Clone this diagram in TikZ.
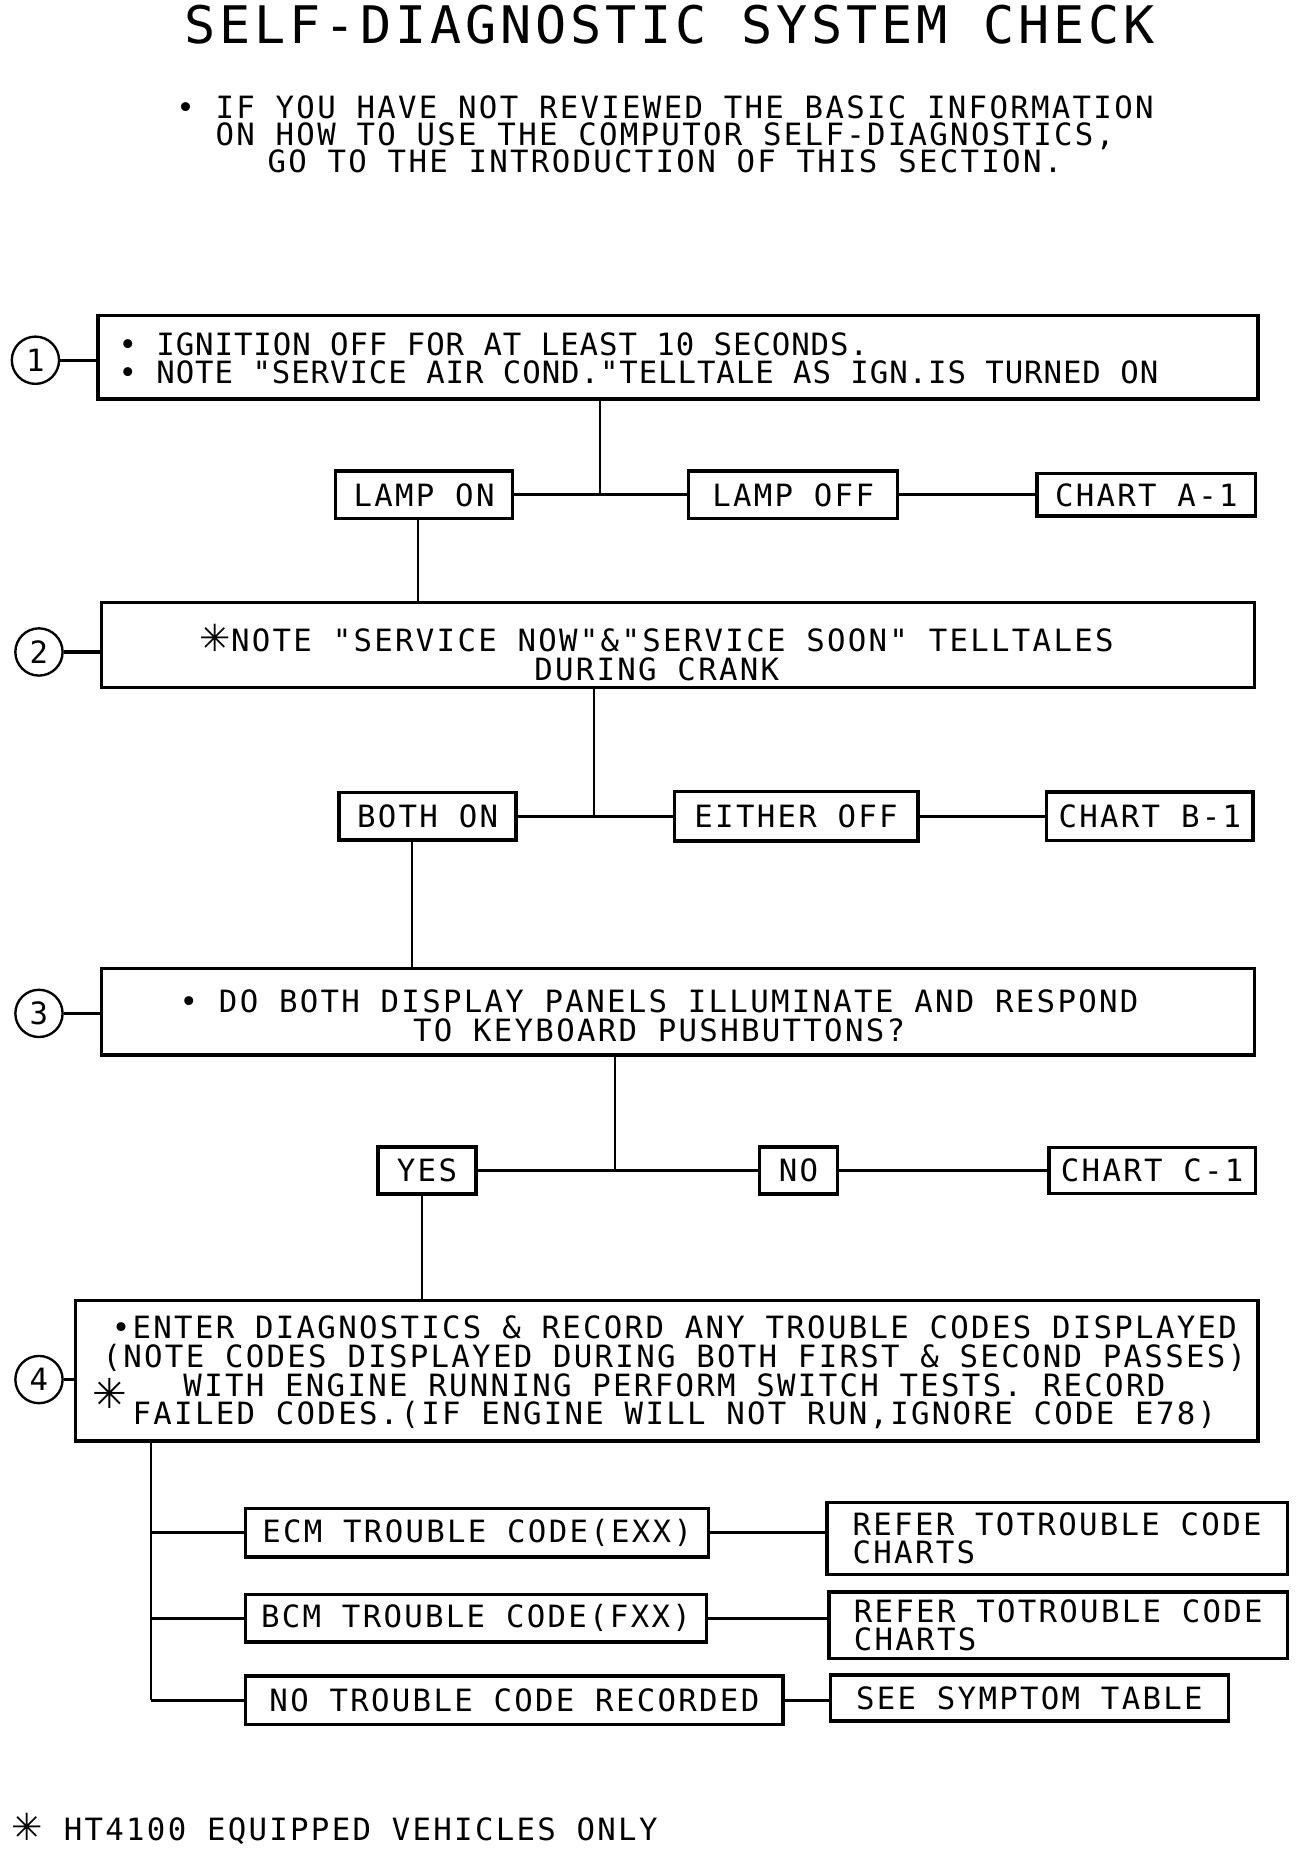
\documentclass[tikz,border=0pt]{standalone}
\usepackage{fontspec}
\setmainfont{DejaVu Sans Mono}[LetterSpace=7.5,Ligatures=TeXOff]
\newfontfamily\starfont{DejaVu Sans}
\usetikzlibrary{positioning}

\begin{document}
\begin{tikzpicture}[x=0.6pt,y=-0.6pt,
        testo/.style={font=\fontsize{15.6}{14.6}\selectfont},
        riquadro/.style={testo,draw,line width=1.8pt,inner sep=0pt,align=center},
        numero/.style={testo,circle,draw,line width=1.2pt,inner sep=0pt,minimum size=24pt},
        linea/.style={line width=1.6pt},
        discesa/.style={line width=1pt}]
        \fill[white] (0,0) rectangle (1111,1568);
        \useasboundingbox (0,0) rectangle (1111,1568);
        %disegno titolo e introduzione
        \node[font=\fontsize{26.3}{30}\selectfont] (titolo) at (567,21) {SELF-DIAGNOSTIC SYSTEM CHECK};
        \node[align=center,font=\fontsize{15.6}{13.8}\selectfont] (intro) at (563,114) {• IF YOU HAVE NOT REVIEWED THE BASIC INFORMATION\\ON HOW TO USE THE COMPUTOR SELF-DIAGNOSTICS,\\GO TO THE INTRODUCTION OF THIS SECTION.};
        %disegno passo 1
        \node[riquadro,minimum width=589.2pt,minimum height=42.6pt] (passo1) at (574,302.5) {};
        \node[align=left,inner sep=0pt,anchor=west,font={\fontsize{15.6}{14}\selectfont\addfontfeature{LetterSpace=3}}] (testo1) at (100,303.5) {• IGNITION OFF FOR AT LEAST 10 SECONDS.\\• NOTE "SERVICE AIR COND."TELLTALE AS IGN.IS TURNED ON};
        \node[numero] (n1) at (30,305) {1};
        \draw[linea] (n1.east) -- (n1.east -| passo1.west);
        \node[riquadro,minimum width=90pt,minimum height=24pt] (lampon) at (359,419) {LAMP ON};
        \node[riquadro,minimum width=106.2pt,minimum height=24pt] (lampoff) at (671.5,419) {LAMP OFF};
        \node[riquadro,minimum width=111pt,minimum height=21.6pt] (cartaA) at (970.5,419) {CHART A-1};
        \coordinate (j1) at (508,419);
        \draw[discesa] (passo1.south -| j1) -- (j1);
        \draw[linea] (lampon) -- (lampoff);
        \draw[linea] (lampoff) -- (cartaA);
        %disegno passo 2
        \node[riquadro,minimum width=585.6pt,minimum height=43.2pt] (passo2) at (574,546) {};
        \node[testo,align=center,inner sep=0pt] (testo2) at (556,552.5) {{\starfont\bfseries\fontsize{19}{14.6}\selectfont ✳}NOTE "SERVICE NOW"\&"SERVICE SOON" TELLTALES\\DURING CRANK};
        \node[numero] (n2) at (33,552) {2};
        \draw[linea] (n2.east) -- (n2.east -| passo2.west);
        \draw[discesa] ([xshift=-3pt]lampon.south) -- ([xshift=-3pt]lampon.south |- passo2.north);
        \node[riquadro,minimum width=90pt,minimum height=24pt] (bothon) at (362,691) {BOTH ON};
        \node[riquadro,minimum width=123.6pt,minimum height=25.2pt] (eitheroff) at (674,691) {EITHER OFF};
        \node[riquadro,minimum width=105pt,minimum height=24.6pt] (cartaB) at (973.5,691) {CHART B-1};
        \coordinate (j2) at (503,691);
        \draw[discesa] (passo2.south -| j2) -- (j2);
        \draw[linea] (bothon) -- (eitheroff);
        \draw[linea] (eitheroff) -- (cartaB);
        %disegno passo 3
        \node[riquadro,minimum width=585.6pt,minimum height=43.8pt] (passo3) at (574,856.5) {};
        \node[testo,align=center,inner sep=0pt] (testo3) at (558,860) {• DO BOTH DISPLAY PANELS ILLUMINATE AND RESPOND\\TO KEYBOARD PUSHBUTTONS?};
        \node[numero] (n3) at (33,858) {3};
        \draw[linea] (n3.east) -- (n3.east -| passo3.west);
        \draw[discesa] ([xshift=-8pt]bothon.south) -- ([xshift=-8pt]bothon.south |- passo3.north);
        \node[riquadro,minimum width=49.8pt,minimum height=24pt] (yes) at (361.5,991) {YES};
        \node[riquadro,minimum width=39.6pt,minimum height=24pt] (no) at (676,991) {NO};
        \node[riquadro,minimum width=105pt,minimum height=23.4pt] (cartaC) at (975.5,991) {CHART C-1};
        \coordinate (j3) at (521,991);
        \draw[discesa] (passo3.south -| j3) -- (j3);
        \draw[linea] (yes) -- (no);
        \draw[linea] (no) -- (cartaC);
        %disegno passo 4
        \node[riquadro,minimum width=600.6pt,minimum height=71.4pt] (passo4) at (564.5,1160.5) {};
        \node[testo,align=center,inner sep=0pt] (testo4) at (571,1162) {•ENTER DIAGNOSTICS \& RECORD ANY TROUBLE CODES DISPLAYED\\(NOTE CODES DISPLAYED DURING BOTH FIRST \& SECOND PASSES)\\WITH ENGINE RUNNING PERFORM SWITCH TESTS. RECORD\\FAILED CODES.(IF ENGINE WILL NOT RUN,IGNORE CODE E78)};
        \node[inner sep=0pt,font={\starfont\bfseries\fontsize{21}{21}\selectfont}] (stella4) at (93,1180) {✳};
        \node[numero] (n4) at (33,1168) {4};
        \draw[linea] (n4.east) -- (n4.east -| passo4.west);
        \draw[discesa] ([xshift=-2.7pt]yes.south) -- ([xshift=-2.7pt]yes.south |- passo4.north);
        %disegno codici
        \node[riquadro,minimum width=235.2pt,minimum height=24.6pt] (ecm) at (404,1297.5) {ECM TROUBLE CODE(EXX)};
        \node[riquadro,minimum width=234pt,minimum height=36.6pt,align=left] (rinvio1) at (895,1302.5) {REFER TOTROUBLE CODE\\CHARTS};
        \node[riquadro,minimum width=234pt,minimum height=24pt] (bcm) at (403,1370) {BCM TROUBLE CODE(FXX)};
        \node[riquadro,minimum width=232.8pt,minimum height=33.6pt,align=left] (rinvio2) at (896,1376) {REFER TOTROUBLE CODE\\CHARTS};
        \node[riquadro,minimum width=273pt,minimum height=24.6pt] (nessuno) at (435.5,1439.5) {NO TROUBLE CODE RECORDED};
        \node[riquadro,minimum width=202.2pt,minimum height=23.4pt] (sintomi) at (871.5,1437.5) {SEE SYMPTOM TABLE};
        \coordinate (bus) at (128,1442);
        \draw[discesa] (passo4.south -| bus) -- (bus |- nessuno);
        \draw[linea] (bus |- ecm) -- (ecm.west);
        \draw[linea] (bus |- bcm) -- (bcm.west);
        \draw[linea] (bus |- nessuno) -- (nessuno.west);
        \draw[linea] (ecm.east) -- (ecm.east -| rinvio1.west);
        \draw[linea] (bcm.east) -- (bcm.east -| rinvio2.west);
        \draw[linea] (nessuno.east) -- (nessuno.east -| sintomi.west);
        %nota in fondo
        \node[testo,anchor=west] (nota) at (4,1548) {{\starfont\bfseries\fontsize{19}{14.6}\selectfont ✳} HT4100 EQUIPPED VEHICLES ONLY};
    \end{tikzpicture}
\end{document}
